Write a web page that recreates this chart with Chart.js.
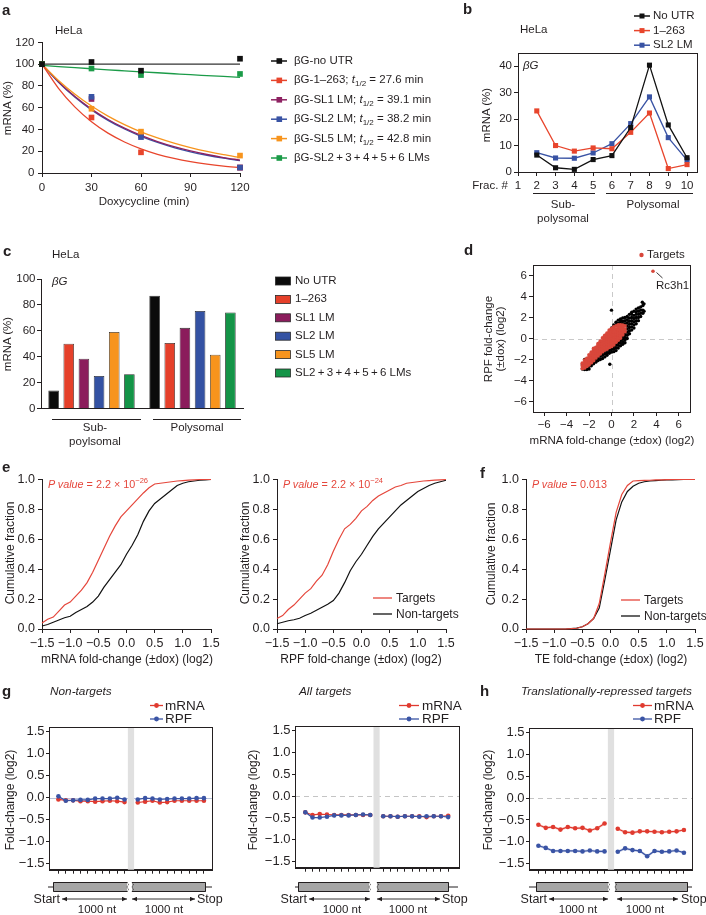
<!DOCTYPE html>
<html>
<head>
<meta charset="utf-8">
<title>Figure</title>
<script src="https://cdn.jsdelivr.net/npm/chart.js@4.4.1/dist/chart.umd.min.js"></script>
<style>
  body { margin: 0; background: #fff; }
  #fig { position: relative; width: 706px; height: 915px; overflow: hidden; font-family: "Liberation Sans", Arial, sans-serif; color: #231f20; }
  #fig canvas { position: absolute; }
  #deco { position: absolute; left: 0; top: 0; z-index: 2; }
  .t { position: absolute; white-space: nowrap; line-height: 1; z-index: 3; }
  .t sub { font-size: 0.7em; vertical-align: -0.3em; line-height: 0; }
  .t sup { font-size: 0.7em; vertical-align: 0.55em; line-height: 0; }
</style>
</head>
<body>
<div id="fig"><svg id="deco" width="706" height="915"></svg></div>
<script>
// ---------- data ----------
// a: mRNA decay after doxycycline
const aTime = [0, 30, 60, 120];
const aNoUtr = [100, 102, 94, 105];
const a1263 = [100, 51, 19, 5];
const aSl1 = [100, 68, 35, 5];
const aSl2 = [100, 70, 33, 5];
const aSl5 = [100, 59, 38, 16];
const aSlAll = [100, 96, 90, 91];
// fitted curves
const aFitT = [0, 10, 20, 30, 40, 50, 60, 70, 80, 90, 100, 110, 120];
const aFitNoUtr = [100, 100, 100, 100, 100, 100, 100, 100, 100, 100, 100, 100, 100];
const aFit1263 = [100, 77.8, 60.5, 47.1, 36.6, 28.5, 22.2, 17.2, 13.4, 10.4, 8.1, 6.3, 4.9];
const aFitSl1 = [100, 83.8, 70.2, 58.7, 49.2, 41.2, 34.5, 28.9, 24.2, 20.3, 17.0, 14.2, 11.9];
const aFitSl2 = [100, 83.4, 69.5, 58.0, 48.4, 40.4, 33.7, 28.1, 23.4, 19.5, 16.3, 13.6, 11.3];
const aFitSl5 = [100, 85.0, 72.3, 61.5, 52.3, 44.5, 37.8, 32.2, 27.4, 23.3, 19.8, 16.8, 14.3];
const aFitSlAll = [98.8, 97.8, 96.8, 95.8, 94.8, 93.9, 93.0, 92.1, 91.2, 90.3, 89.5, 88.7, 87.9];
const aXTicks = [0, 30, 60, 90, 120];
const aYTicks = [0, 20, 40, 60, 80, 100, 120];
const aLegend = [
  'βG-no UTR',
  'βG-1–263; <i>t</i><sub>1/2</sub> = 27.6 min',
  'βG-SL1 LM; <i>t</i><sub>1/2</sub> = 39.1 min',
  'βG-SL2 LM; <i>t</i><sub>1/2</sub> = 38.2 min',
  'βG-SL5 LM; <i>t</i><sub>1/2</sub> = 42.8 min',
  'βG-SL2&thinsp;+&thinsp;3&thinsp;+&thinsp;4&thinsp;+&thinsp;5&thinsp;+&thinsp;6 LMs'
];

// b: polysome profile
const bFrac = [2, 3, 4, 5, 6, 7, 8, 9, 10];
const bNoUtr = [6.4, 1.6, 1.0, 4.7, 6.2, 16.8, 40.4, 17.8, 5.4];
const b1263 = [23.1, 10.0, 7.9, 9.1, 8.8, 15.0, 22.3, 1.3, 2.8];
const bSl2 = [7.3, 5.3, 5.2, 7.2, 10.7, 18.3, 28.4, 13.0, 4.5];
const bXTicks = [1, 2, 3, 4, 5, 6, 7, 8, 9, 10];
const bYTicks = [0, 10, 20, 30, 40];
const bLegend = ['No UTR', '1–263', 'SL2 LM'];

// c: sub-polysomal vs polysomal
const cGroups = ['Sub-poylsomal', 'Polysomal'];
const cConstructs = ['No UTR', '1–263', 'SL1 LM', 'SL2 LM', 'SL5 LM', 'SL2&thinsp;+&thinsp;3&thinsp;+&thinsp;4&thinsp;+&thinsp;5&thinsp;+&thinsp;6 LMs'];
const cSub = [13.9, 50.1, 38.5, 25.1, 59.2, 26.6];
const cPoly = [87.1, 50.6, 62.3, 75.4, 41.5, 74.2];
const cYTicks = [0, 20, 40, 60, 80, 100];

// d: RPF vs mRNA fold-change, columns of [x, [y...]]
const dBlackCols = [
  [-2.6, [-2.9, -2.5]], [-2.4, [-2.95, -2.0]], [-2.2, [-2.95, -2.8]], [-2.0, [-2.9, -2.65]],
  [-1.8, [-2.6, -2.4]], [-1.6, [-2.4, -2.2]], [-1.4, [-2.25, -2.0]], [-1.2, [-2.1, -1.85]],
  [-1.0, [-2.0, -1.7]], [-0.8, [-1.9, -1.6, -1.35]], [-0.6, [-1.75, -1.45, -1.2]],
  [-0.4, [-1.6, -1.35, -1.1]], [-0.2, [-1.4, -1.15, -0.95]], [0.0, [-1.3, -1.05, -0.85, 1.0, 2.7]],
  [0.2, [-1.25, -1.0, -0.75, 1.15, 1.3]], [0.4, [-1.15, -0.9, -0.65, -0.45, 1.3, 1.55]],
  [0.6, [-0.9, -0.65, -0.4, -0.2, 1.45, 1.75]], [0.8, [-0.7, -0.45, -0.2, 0.0, 1.45, 1.7, 1.85]],
  [1.0, [-0.55, -0.3, -0.05, 0.2, 1.4, 1.65, 1.95]], [1.2, [-0.4, -0.15, 0.1, 0.35, 0.55, 1.4, 1.7, 2.0]],
  [1.4, [0.0, 0.3, 0.6, 0.9, 1.2, 1.5, 1.8, 2.1]], [1.6, [0.45, 0.75, 1.05, 1.35, 1.65, 1.95, 2.3]],
  [1.8, [0.8, 1.1, 1.4, 1.7, 2.0, 2.3, 2.5]], [2.0, [1.0, 1.3, 1.6, 1.9, 2.2, 2.6]],
  [2.2, [1.4, 1.7, 2.0, 2.3, 2.55, 2.8]], [2.4, [1.7, 2.0, 2.3, 2.6, 2.9]],
  [2.6, [2.1, 2.4, 2.7, 3.0]], [2.8, [2.4, 2.7, 3.15]], [2.9, [2.6, 3.3]],
  [-0.15, [-2.45]], [2.75, [3.45]]
];
const dRedCols = [
  [-2.6, [-2.85, -2.6, -2.35]], [-2.4, [-2.8, -2.55, -2.3, -2.05]], [-2.2, [-2.65, -2.4, -2.15, -1.9]],
  [-2.0, [-2.5, -2.25, -2.0, -1.75, -1.55]], [-1.8, [-2.3, -2.05, -1.8, -1.55, -1.3]],
  [-1.6, [-2.1, -1.85, -1.6, -1.35, -1.1, -0.95]], [-1.4, [-1.85, -1.6, -1.35, -1.1, -0.85]],
  [-1.2, [-1.65, -1.4, -1.15, -0.9, -0.65, -0.5]], [-1.0, [-1.45, -1.2, -0.95, -0.7, -0.45, -0.25]],
  [-0.8, [-1.25, -1.0, -0.75, -0.5, -0.25, 0.05]], [-0.6, [-1.1, -0.85, -0.6, -0.35, -0.1, 0.15, 0.3]],
  [-0.4, [-1.0, -0.75, -0.5, -0.25, 0.0, 0.25, 0.5]], [-0.2, [-0.85, -0.6, -0.35, -0.1, 0.15, 0.4, 0.65, 0.8]],
  [0.0, [-0.75, -0.5, -0.25, 0.0, 0.25, 0.5, 0.75, 0.95]], [0.2, [-0.6, -0.35, -0.1, 0.15, 0.4, 0.65, 0.9, 1.1]],
  [0.4, [-0.35, -0.1, 0.15, 0.4, 0.65, 0.9, 1.2]], [0.6, [-0.15, 0.1, 0.35, 0.6, 0.85, 1.1, 1.3]],
  [0.8, [0.05, 0.3, 0.55, 0.8, 1.05, 1.3]], [1.0, [0.35, 0.6, 0.85, 1.1, 1.28]], [1.2, [0.65, 0.9, 1.2]]
];
const dRc3h1 = [3.7, 6.4];
const dTicks = [-6, -4, -2, 0, 2, 4, 6];

// e, f: cumulative fractions
const eX = [-1.5, -1.4, -1.3, -1.2, -1.1, -1.0, -0.9, -0.8, -0.7, -0.6, -0.5, -0.4, -0.3, -0.2, -0.1, 0,
  0.1, 0.2, 0.3, 0.4, 0.5, 0.6, 0.7, 0.8, 0.9, 1.0, 1.1, 1.2, 1.3, 1.4, 1.5];
const eMrnaTargets = [0.04, 0.065, 0.08, 0.12, 0.16, 0.18, 0.22, 0.26, 0.31, 0.38, 0.46, 0.54, 0.62, 0.69, 0.75, 0.79,
  0.83, 0.87, 0.91, 0.945, 0.97, 0.975, 0.98, 0.985, 0.99, 0.993, 0.996, 0.998, 1, 1, 1];
const eMrnaNon = [0.02, 0.03, 0.045, 0.06, 0.075, 0.085, 0.11, 0.13, 0.15, 0.18, 0.22, 0.28, 0.33, 0.38, 0.43, 0.5,
  0.56, 0.63, 0.72, 0.79, 0.84, 0.87, 0.9, 0.93, 0.96, 0.975, 0.985, 0.99, 0.995, 0.998, 1];
const eRpfTargets = [0.07, 0.09, 0.13, 0.16, 0.2, 0.24, 0.27, 0.32, 0.36, 0.43, 0.52, 0.6, 0.67, 0.7, 0.74, 0.79,
  0.82, 0.86, 0.89, 0.91, 0.93, 0.95, 0.96, 0.975, 0.98, 0.985, 0.99, 0.993, 0.996, 0.998, 1];
const eRpfNon = [0.035, 0.045, 0.055, 0.062, 0.072, 0.09, 0.105, 0.125, 0.145, 0.165, 0.19, 0.24, 0.31, 0.39, 0.45, 0.5,
  0.56, 0.62, 0.67, 0.71, 0.75, 0.79, 0.83, 0.86, 0.89, 0.92, 0.94, 0.96, 0.975, 0.985, 0.995];
const fTeTargets = [0, 0, 0, 0, 0, 0, 0, 0, 0.002, 0.005, 0.015, 0.035, 0.07, 0.17, 0.37, 0.58,
  0.78, 0.9, 0.96, 0.99, 0.992, 0.994, 0.995, 0.997, 0.998, 0.999, 1, 1, 1, 1, 1];
const fTeNon = [0, 0, 0, 0, 0, 0, 0, 0, 0.002, 0.006, 0.015, 0.035, 0.07, 0.14, 0.33, 0.53,
  0.73, 0.85, 0.92, 0.955, 0.975, 0.985, 0.99, 0.993, 0.995, 0.997, 0.998, 0.999, 1, 1, 1];
const eXTicks = [-1.5, -1, -0.5, 0, 0.5, 1, 1.5];
const eYTicks = [0, 0.2, 0.4, 0.6, 0.8, 1];

// g, h: metagene fold-change profiles
const gPos = [1, 2, 3, 4, 5, 6, 7, 8, 9, 10, 11.8, 12.8, 13.8, 14.8, 15.8, 16.8, 17.8, 18.8, 19.8, 20.8];
const gNonMrna = [-0.04, -0.06, -0.06, -0.08, -0.08, -0.09, -0.08, -0.07, -0.08, -0.10,
  -0.11, -0.09, -0.07, -0.11, -0.10, -0.07, -0.07, -0.07, -0.07, -0.07];
const gNonRpf = [0.03, -0.07, -0.06, -0.05, -0.05, -0.02, -0.02, -0.02, 0.0, -0.04,
  -0.04, -0.01, -0.02, -0.04, -0.03, -0.02, -0.02, -0.02, -0.01, -0.01];
const gAllMrna = [-0.37, -0.43, -0.41, -0.42, -0.43, -0.43, -0.43, -0.43, -0.43, -0.43,
  -0.46, -0.46, -0.47, -0.46, -0.46, -0.46, -0.48, -0.46, -0.46, -0.45];
const gAllRpf = [-0.37, -0.49, -0.49, -0.47, -0.44, -0.44, -0.44, -0.43, -0.42, -0.43,
  -0.46, -0.46, -0.47, -0.46, -0.46, -0.47, -0.46, -0.46, -0.46, -0.48];
const hMrna = [-0.61, -0.68, -0.66, -0.72, -0.66, -0.69, -0.68, -0.74, -0.69, -0.58,
  -0.70, -0.78, -0.79, -0.76, -0.76, -0.77, -0.78, -0.77, -0.76, -0.73];
const hRpf = [-1.09, -1.14, -1.21, -1.21, -1.21, -1.21, -1.22, -1.20, -1.22, -1.22,
  -1.23, -1.15, -1.19, -1.21, -1.33, -1.21, -1.23, -1.22, -1.20, -1.25];
const hMrnaSem = [0.03, 0.03, 0.03, 0.03, 0.03, 0.03, 0.03, 0.03, 0.03, 0.04,
  0.03, 0.03, 0.03, 0.03, 0.03, 0.03, 0.03, 0.03, 0.03, 0.03];
const hRpfSem = [0.03, 0.03, 0.03, 0.03, 0.03, 0.03, 0.03, 0.03, 0.03, 0.03,
  0.03, 0.03, 0.03, 0.03, 0.04, 0.03, 0.03, 0.03, 0.03, 0.03];
const gYTicks = [-1.5, -1, -0.5, 0, 0.5, 1, 1.5];

// ---------- colours ----------
const ink = '#231f20';
const colBlack = '#111111', colRed = '#e8452c', colPurple = '#8e2262', colBlue = '#3953a4',
  colOrange = '#f7941d', colGreen = '#1b9b48';
const aCols = [colBlack, colRed, colPurple, colBlue, colOrange, colGreen];
const cCols = ['#0b0b0b', '#e5402a', '#8b1c5c', '#3452a3', '#f7941d', '#149447'];
const cdfRed = '#e5463b', dRed = '#d8473b', gRed = '#e03a2f', gBlue = '#3a54a5';

// ---------- helpers ----------
const fig = document.getElementById('fig');
Chart.defaults.font.family = '"Liberation Sans", Arial, sans-serif';
Chart.defaults.font.size = 11.5;
Chart.defaults.color = ink;
Chart.defaults.plugins.legend.display = false;
Chart.defaults.plugins.tooltip.enabled = false;

const minus = s => String(s).replace('-', '\u2212');
const fmtInt = v => minus(v);
const fmt1 = v => minus(v.toFixed(1));
const noLab = () => '';
const xy = (xs, ys) => xs.map((x, i) => ({ x, y: ys[i] }));

function axis(min, max, ticks, fmt, o = {}) {
  return {
    type: 'linear', min, max,
    afterBuildTicks: s => { s.ticks = ticks.map(v => ({ value: v })); },
    ticks: { autoSkip: false, maxRotation: 0, padding: o.pad ?? 3, color: ink, font: { size: o.size || 11.5 }, callback: v => fmt(v) },
    grid: { display: true, drawOnChartArea: false, drawTicks: true, tickLength: o.tl ?? 4, color: ink, lineWidth: 1 },
    border: { display: true, color: ink, width: 1 }
  };
}

function makeChart(b, cfg) {
  const yw = b.yw, xh = b.xh, pt = b.pt ?? 10, pr = b.pr ?? 16;
  const W = yw + b.w + pr, H = pt + b.h + xh;
  const cv = document.createElement('canvas');
  cv.width = W; cv.height = H;
  Object.assign(cv.style, { left: (b.l - yw) + 'px', top: (b.t - pt) + 'px', width: W + 'px', height: H + 'px' });
  fig.appendChild(cv);
  const o = cfg.options;
  o.responsive = false; o.maintainAspectRatio = false; o.devicePixelRatio = 1; o.animation = false;
  o.layout = { padding: { top: pt, right: pr, left: 0, bottom: 0 } };
  o.scales.x.afterFit = s => { s.height = xh; };
  o.scales.y.afterFit = s => { s.width = yw; };
  return new Chart(cv, cfg);
}

// box round the plot area
const frame = {
  id: 'frame',
  afterDatasetsDraw(c) {
    const a = c.chartArea, ctx = c.ctx;
    ctx.save();
    ctx.strokeStyle = ink; ctx.lineWidth = 1;
    ctx.strokeRect(Math.round(a.left) + 0.5, Math.round(a.top) + 0.5, Math.round(a.width), Math.round(a.height));
    ctx.restore();
  }
};
function refLines(lines) {
  return {
    id: 'refLines',
    beforeDatasetsDraw(c) {
      const { ctx, chartArea: a, scales } = c;
      ctx.save();
      lines.forEach(l => {
        ctx.strokeStyle = l.color; ctx.lineWidth = 1; ctx.setLineDash(l.dash || []);
        ctx.beginPath();
        if (l.axis === 'x') {
          const p = Math.round(scales.x.getPixelForValue(l.value)) + 0.5;
          ctx.moveTo(p, a.top); ctx.lineTo(p, a.bottom);
        } else {
          const p = Math.round(scales.y.getPixelForValue(l.value)) + 0.5;
          ctx.moveTo(a.left, p); ctx.lineTo(a.right, p);
        }
        ctx.stroke();
      });
      ctx.restore();
    }
  };
}
function band(x0, x1) {
  return {
    id: 'band',
    beforeDatasetsDraw(c) {
      const { ctx, chartArea: a, scales: { x } } = c;
      const p0 = x.getPixelForValue(x0), p1 = x.getPixelForValue(x1);
      ctx.save(); ctx.fillStyle = '#e0e0e0';
      ctx.fillRect(p0, a.top, p1 - p0, a.height);
      ctx.restore();
    }
  };
}

function T(x, y, html, o = {}) {
  const d = document.createElement('div');
  d.className = 't';
  d.innerHTML = html;
  const tx = o.a === 'c' ? '-50%' : o.a === 'r' ? '-100%' : '0';
  d.style.left = x + 'px';
  d.style.top = y + 'px';
  d.style.transform = o.rot ? 'translate(-50%,-50%) rotate(-90deg)' : `translate(${tx},-50%)`;
  d.style.fontSize = (o.s || 11.5) + 'px';
  if (o.color) d.style.color = o.color;
  if (o.bold) d.style.fontWeight = 'bold';
  fig.appendChild(d);
}
let svg = '<defs><marker id="ah" viewBox="0 0 8 8" refX="8" refY="4" markerWidth="5" markerHeight="5" markerUnits="userSpaceOnUse" orient="auto-start-reverse"><path d="M0,0.5 L8,4 L0,7.5 z" fill="#231f20"/></marker></defs>';
const L = (x1, y1, x2, y2, c, w = 1, extra = '') => {
  svg += `<line x1="${x1}" y1="${y1}" x2="${x2}" y2="${y2}" stroke="${c}" stroke-width="${w}" ${extra}/>`;
};

// ---------- panel a ----------
const sq = (data, color, r) => ({ data, showLine: false, pointStyle: 'rect', pointRadius: r, pointBackgroundColor: color, pointBorderWidth: 0, clip: false });
const curve = (data, color, w) => ({ data, showLine: true, pointRadius: 0, borderColor: color, borderWidth: w, cubicInterpolationMode: 'monotone', clip: false });

makeChart({ l: 42, t: 42, w: 198, h: 131, yw: 42, xh: 24 }, {
  type: 'scatter',
  data: { datasets: [
    sq(xy(aTime, aNoUtr), colBlack, 4),
    sq(xy(aTime, aSlAll), colGreen, 4),
    sq(xy(aTime, aSl5), colOrange, 4),
    sq(xy(aTime, aSl2), colBlue, 4),
    sq(xy(aTime, aSl1), colPurple, 4),
    sq(xy(aTime, a1263), colRed, 4),
    curve(xy(aFitT, aFitNoUtr), '#333333', 1.3),
    curve(xy(aFitT, aFit1263), colRed, 1.3),
    curve(xy(aFitT, aFitSl5), colOrange, 1.3),
    curve(xy(aFitT, aFitSl1), colPurple, 1.3),
    curve(xy(aFitT, aFitSl2), colBlue, 1.3),
    curve(xy(aFitT, aFitSlAll), colGreen, 1.3)
  ] },
  options: { scales: { x: axis(0, 120, aXTicks, fmtInt, { pad: 3.5 }), y: axis(0, 120, aYTicks, fmtInt, { pad: 3.5 }) } }
});
T(2, 9, 'a', { s: 15, bold: true });
T(55, 31, 'HeLa');
T(8, 108, 'mRNA (%)', { rot: true });
T(144, 202, 'Doxycycline (min)', { a: 'c' });
aLegend.forEach((lab, i) => {
  const y = 61 + i * 19.4;
  L(271, y, 287, y, aCols[i], 1.5);
  svg += `<rect x="276.5" y="${y - 2.8}" width="5.6" height="5.6" fill="${aCols[i]}"/>`;
  T(294, y, lab);
});

// ---------- panel b ----------
const bLine = (ys, c) => ({ data: xy(bFrac, ys), showLine: true, borderColor: c, borderWidth: 1.3, pointStyle: 'rect', pointRadius: 3.6, pointBackgroundColor: c, pointBorderWidth: 0, clip: false });
makeChart({ l: 518, t: 53, w: 179, h: 119, yw: 34, xh: 24 }, {
  type: 'scatter',
  data: { datasets: [bLine(bNoUtr, colBlack), bLine(b1263, colRed), bLine(bSl2, colBlue)] },
  options: { scales: { x: axis(1, 10.53, bXTicks, fmtInt, { pad: 3 }), y: axis(0, 45, bYTicks, fmtInt, { pad: 2 }) } },
  plugins: [frame]
});
T(463, 8, 'b', { s: 15, bold: true });
T(520, 30, 'HeLa');
[colBlack, colRed, colBlue].forEach((c, i) => {
  const y = 16 + i * 14.6;
  L(634, y, 650, y, c, 1.5);
  svg += `<rect x="639.5" y="${y - 2.5}" width="5" height="5" fill="${c}"/>`;
  T(653, y, bLegend[i]);
});
T(523, 66, '<i>βG</i>');
T(487, 115, 'mRNA (%)', { rot: true });
T(508, 186, 'Frac. #', { a: 'r' });
L(533, 193.5, 595, 193.5, ink, 1);
L(606, 193.5, 693, 193.5, ink, 1);
T(563, 205, 'Sub-', { a: 'c' });
T(563, 219, 'polysomal', { a: 'c' });
T(653, 205, 'Polysomal', { a: 'c' });

// ---------- panel c ----------
makeChart({ l: 41, t: 279, w: 202, h: 132, yw: 41, xh: 6 }, {
  type: 'bar',
  data: {
    labels: cGroups,
    datasets: cConstructs.map((name, i) => ({
      label: name, data: [cSub[i], cPoly[i]], backgroundColor: cCols[i],
      borderColor: '#2a2a2a', borderWidth: 0.8, categoryPercentage: 0.9, barPercentage: 0.7
    }))
  },
  options: { scales: {
    x: { type: 'category', ticks: { display: false }, grid: { display: false }, border: { display: true, color: ink, width: 1 } },
    y: axis(0, 100, cYTicks, fmtInt, { pad: 1.5 })
  } }
});
T(3, 250, 'c', { s: 15, bold: true });
T(52, 255, 'HeLa');
T(52, 282, '<i>βG</i>');
T(8, 344, 'mRNA (%)', { rot: true });
L(52, 419.5, 141, 419.5, ink, 1);
L(153, 419.5, 241, 419.5, ink, 1);
T(95, 428, 'Sub-', { a: 'c' });
T(95, 442, 'poylsomal', { a: 'c' });
T(197, 428, 'Polysomal', { a: 'c' });
cConstructs.forEach((name, i) => {
  const y = 281 + i * 18.4;
  svg += `<rect x="275.5" y="${y - 4}" width="15" height="8" fill="${cCols[i]}" stroke="#2a2a2a" stroke-width="0.8"/>`;
  T(295, y, name);
});

// ---------- panel d ----------
const dPts = cols => cols.flatMap(([x, ys]) => ys.map(y => ({ x, y })));
makeChart({ l: 533, t: 265, w: 157, h: 147, yw: 30, xh: 22, pr: 16 }, {
  type: 'scatter',
  data: { datasets: [
    { data: [{ x: dRc3h1[0], y: dRc3h1[1] }], pointRadius: 1.8, pointBackgroundColor: dRed, pointBorderWidth: 0 },
    { data: dPts(dRedCols), pointRadius: 1.9, pointBackgroundColor: dRed, pointBorderWidth: 0 },
    { data: dPts(dBlackCols), pointRadius: 1.7, pointBackgroundColor: '#000', pointBorderWidth: 0 }
  ] },
  options: { scales: { x: axis(-7, 7, dTicks, fmtInt, { pad: 2 }), y: axis(-7, 7, dTicks, fmtInt, { pad: 2 }) } },
  plugins: [refLines([{ axis: 'x', value: 0, color: '#c9c9c9', dash: [5, 4] }, { axis: 'y', value: 0, color: '#c9c9c9', dash: [5, 4] }]), frame]
});
T(464, 249, 'd', { s: 15, bold: true });
svg += `<circle cx="641.5" cy="255" r="2.2" fill="${dRed}"/>`;
T(647, 255, 'Targets');
T(656, 286, 'Rc3h1');
L(656.5, 272.5, 662.5, 278, ink, 0.9);
T(489, 339, 'RPF fold-change', { rot: true });
T(501, 339, '(±dox) (log2)', { rot: true });
T(612, 441, 'mRNA fold-change (±dox) (log2)', { a: 'c' });

// ---------- panels e, f ----------
const cdf = (ys, c) => ({ data: xy(eX, ys), showLine: true, pointRadius: 0, borderColor: c, borderWidth: 1.2, clip: false });
function cdfChart(l, yT, yN) {
  makeChart({ l, t: 479, w: 169, h: 150, yw: 42, xh: 24 }, {
    type: 'scatter',
    data: { datasets: [cdf(yT, cdfRed), cdf(yN, colBlack)] },
    options: { scales: { x: axis(-1.5, 1.5, eXTicks, fmt1, { size: 12.5 }), y: axis(0, 1, eYTicks, fmt1, { size: 12.5 }) } }
  });
}
cdfChart(42, eMrnaTargets, eMrnaNon);
cdfChart(277, eRpfTargets, eRpfNon);
cdfChart(526, fTeTargets, fTeNon);
const pv = v => `<i>P value</i> = ${v}`;
T(2, 466, 'e', { s: 15, bold: true });
T(48, 484, pv('2.2 × 10<sup>−26</sup>'), { s: 10.8, color: cdfRed });
T(283, 484, pv('2.2 × 10<sup>−24</sup>'), { s: 10.8, color: cdfRed });
T(532, 484, pv('0.013'), { s: 10.8, color: cdfRed });
T(10, 553, 'Cumulative fraction', { rot: true, s: 12 });
T(245, 553, 'Cumulative fraction', { rot: true, s: 12 });
T(491, 554, 'Cumulative fraction', { rot: true, s: 12 });
T(127, 659, 'mRNA fold-change (±dox) (log2)', { a: 'c', s: 12 });
T(361, 659, 'RPF fold-change (±dox) (log2)', { a: 'c', s: 12 });
T(611, 659, 'TE fold-change (±dox) (log2)', { a: 'c', s: 12 });
T(480, 472, 'f', { s: 15, bold: true });
[[373, 598], [621, 600]].forEach(([x, y]) => {
  L(x, y, x + 19, y, cdfRed, 1.3);
  L(x, y + 16, x + 19, y + 16, colBlack, 1.3);
  T(x + 23, y, 'Targets', { s: 12 });
  T(x + 23, y + 16, 'Non-targets', { s: 12 });
});

// ---------- panels g, h ----------
function withGap(vals) {
  const out = [];
  gPos.forEach((x, i) => {
    if (i > 0 && x - gPos[i - 1] > 1.5) out.push({ x: x - 0.9, y: null });
    out.push({ x, y: vals[i] });
  });
  return out;
}
const pl = (vals, c) => ({ data: withGap(vals), showLine: true, spanGaps: false, borderColor: c, borderWidth: 1.2,
  pointRadius: 2.3, pointBackgroundColor: c, pointBorderWidth: 0, clip: false });
const bandDs = (vals, c, fill) => ({ data: withGap(vals), showLine: true, spanGaps: false, borderWidth: 0, pointRadius: 0,
  borderColor: 'rgba(0,0,0,0)', backgroundColor: c, fill });

function profile(box, mr, rp, zeroLine, sem) {
  const ds = [pl(rp, gBlue), pl(mr, gRed)];
  if (sem) {
    ds.push(bandDs(mr.map((v, i) => v + sem[0][i]), 'rgba(224,58,47,0.22)', false));
    ds.push(bandDs(mr.map((v, i) => v - sem[0][i]), 'rgba(224,58,47,0.22)', '-1'));
    ds.push(bandDs(rp.map((v, i) => v + sem[1][i]), 'rgba(58,84,165,0.22)', false));
    ds.push(bandDs(rp.map((v, i) => v - sem[1][i]), 'rgba(58,84,165,0.22)', '-1'));
  }
  makeChart({ l: box.l, t: box.t, w: box.w, h: box.h, yw: 36, xh: 6, pr: 8 }, {
    type: 'scatter',
    data: { datasets: ds },
    options: { scales: {
      x: axis(box.x0, box.x1, gPos, noLab, { tl: 4 }),
      y: axis(-1.64, 1.61, gYTicks, fmt1, { size: 13, tl: 3, pad: 1.5 })
    } },
    plugins: [refLines([zeroLine]), band(10.45, 11.3), frame]
  });
}
profile({ l: 49, t: 727, w: 163, h: 146, x0: -0.28, x1: 21.9 }, gNonMrna, gNonRpf, { axis: 'y', value: 0, color: '#b8c2dc' });
profile({ l: 295, t: 726, w: 164, h: 145, x0: -0.43, x1: 22.3 }, gAllMrna, gAllRpf, { axis: 'y', value: 0, color: '#c4c4c4', dash: [5, 4] });
profile({ l: 529, t: 728, w: 163, h: 145, x0: -0.28, x1: 21.9 }, hMrna, hRpf, { axis: 'y', value: 0, color: '#c4c4c4', dash: [5, 4] }, [hMrnaSem, hRpfSem]);

T(2, 690, 'g', { s: 15, bold: true });
T(480, 690, 'h', { s: 15, bold: true });
T(50, 692, '<i>Non-targets</i>', { s: 11.8 });
T(299, 692, '<i>All targets</i>', { s: 11.8 });
T(521, 692, '<i>Translationally-repressed targets</i>', { s: 11.8 });
[[150, 163, 165], [399, 419, 422], [633, 652, 654]].forEach(([x0, x1, tx]) => {
  [[gRed, 'mRNA', 705.5], [gBlue, 'RPF', 719]].forEach(([c, lab, y]) => {
    L(x0, y, x1, y, c, 1.3);
    svg += `<circle cx="${(x0 + x1) / 2}" cy="${y}" r="2.4" fill="${c}"/>`;
    T(tx, y, lab, { s: 13.5 });
  });
});
T(10, 800, 'Fold-change (log2)', { rot: true, s: 12 });
T(253, 800, 'Fold-change (log2)', { rot: true, s: 12 });
T(488, 800, 'Fold-change (log2)', { rot: true, s: 12 });

// gene model under each profile
function gene(p) {
  const y0 = 882, y1 = 892, ym = 887;
  L(p.l0, ym, p.r1[0], ym, ink, 1);
  L(p.r2[1], ym, p.l1, ym, ink, 1);
  svg += `<rect x="${p.r1[0]}" y="${y0}" width="${p.r1[1] - p.r1[0]}" height="10" fill="#a6a6a6"/>`;
  svg += `<rect x="${p.r2[0]}" y="${y0}" width="${p.r2[1] - p.r2[0]}" height="10" fill="#a6a6a6"/>`;
  svg += `<path d="M${p.r1[1]},${y0 + 0.5}H${p.r1[0] + 0.5}V${y1 - 0.5}H${p.r1[1]} M${p.r2[0]},${y0 + 0.5}H${p.r2[1] - 0.5}V${y1 - 0.5}H${p.r2[0]}" fill="none" stroke="${ink}" stroke-width="1"/>`;
  const zz = x => `M${x},${y0} l1.5,2.5 l-1.5,2.5 l1.5,2.5 l-1.5,2.5`;
  svg += `<path d="${zz(p.r1[1])} ${zz(p.r2[0])}" fill="none" stroke="${ink}" stroke-width="0.8" stroke-dasharray="1.3,0.8"/>`;
  L(p.a1[0], 899, p.a1[1], 899, ink, 0.9, 'marker-start="url(#ah)" marker-end="url(#ah)"');
  L(p.a2[0], 899, p.a2[1], 899, ink, 0.9, 'marker-start="url(#ah)" marker-end="url(#ah)"');
  T(p.start, 899, 'Start', { a: 'r', s: 12.5 });
  T(p.stop, 899, 'Stop', { s: 12.5 });
  T(p.nt[0], 910, '1000 nt', { a: 'c' });
  T(p.nt[1], 910, '1000 nt', { a: 'c' });
}
gene({ l0: 48, l1: 212, r1: [53, 127], r2: [132, 206], start: 60, a1: [62, 127], a2: [132, 195], stop: 197, nt: [97, 164] });
gene({ l0: 295, l1: 458, r1: [298, 369], r2: [377, 449], start: 307, a1: [309, 370], a2: [377, 440], stop: 442, nt: [342, 408] });
gene({ l0: 529, l1: 692, r1: [536, 608], r2: [615, 688], start: 547, a1: [549, 608], a2: [617, 678], stop: 681, nt: [578, 645] });

document.getElementById('deco').innerHTML = svg;
</script>
</body>
</html>
